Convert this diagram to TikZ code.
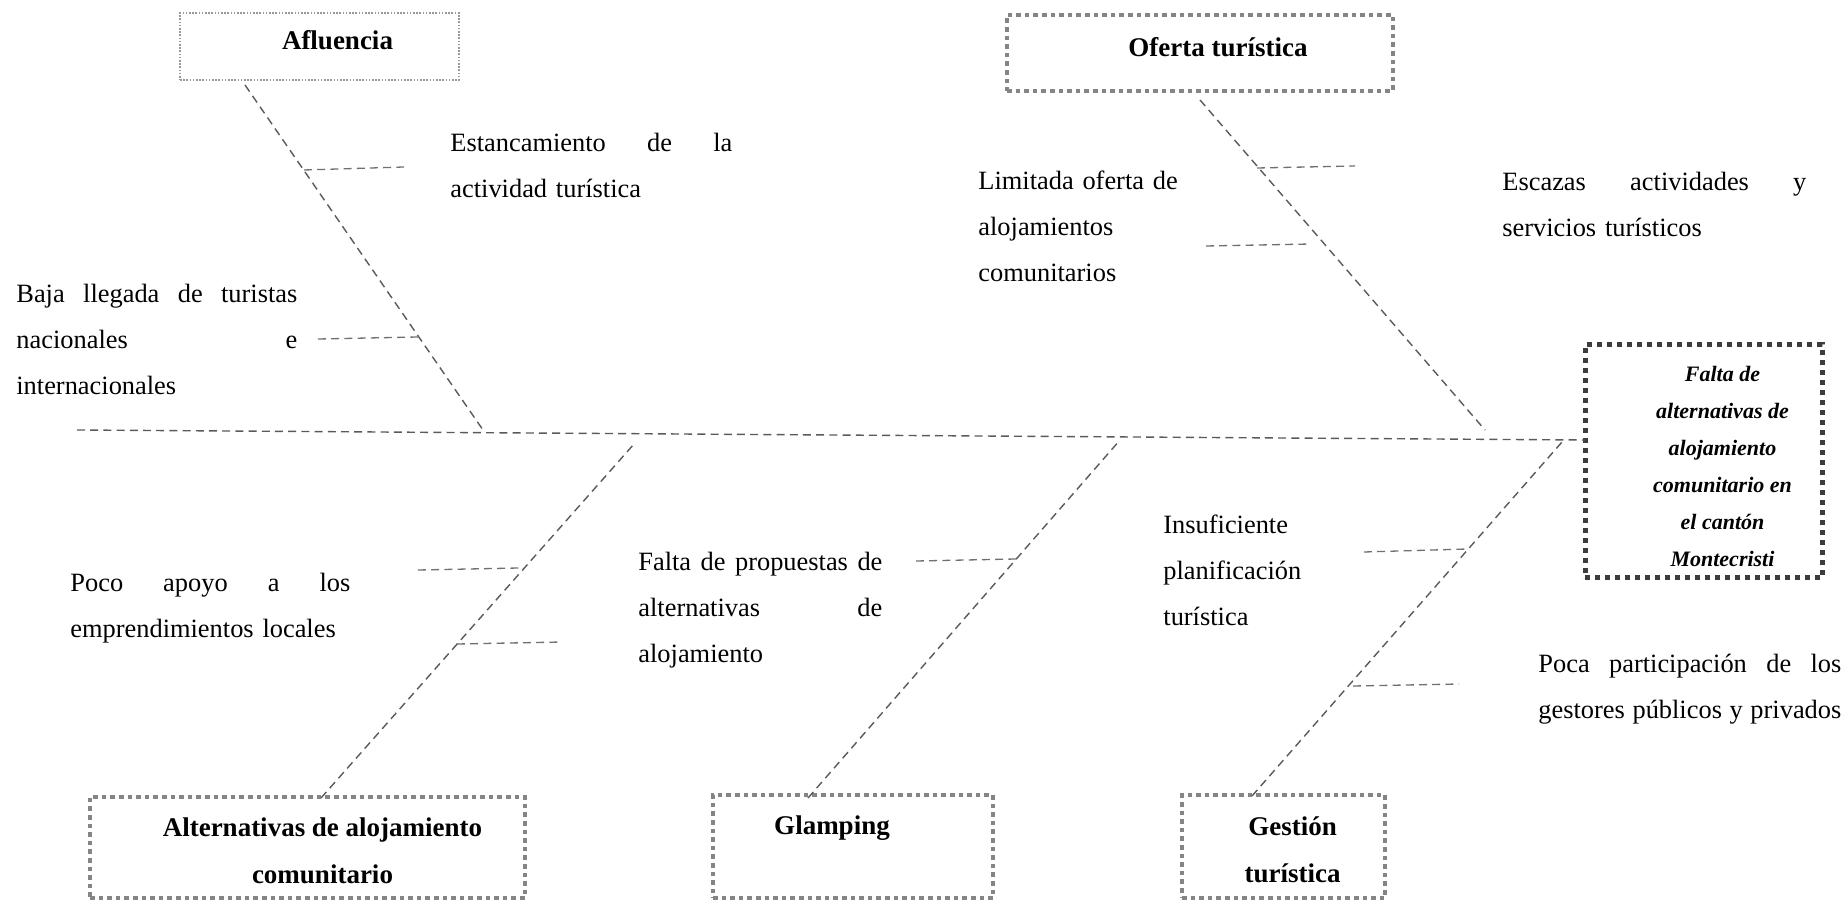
\documentclass[tikz,border=0pt]{standalone}
\usepackage{fontspec}
\setmainfont{Liberation Serif}
\definecolor{bonecol}{HTML}{5A5A5A}
\definecolor{tickcol}{HTML}{707070}
\definecolor{boxcol}{HTML}{858585}
\definecolor{thincol}{HTML}{999999}
\definecolor{headcol}{HTML}{3C3C3C}
\newcommand\jline[2]{\leavevmode\hbox to #1{#2}}
\tikzset{
  bone/.style={draw=bonecol, line width=0.7pt, dash pattern=on 4pt off 2.6pt},
  tick/.style={draw=tickcol, line width=0.65pt, dash pattern=on 4pt off 2.6pt},
  catbox/.style={draw=boxcol, line width=2.3pt, dash pattern=on 2.3pt off 2pt,
    inner sep=0pt, align=center, font=\fontsize{13.5}{23.5}\selectfont\bfseries},
  thinbox/.style={draw=thincol, line width=0.8pt, dash pattern=on 0.8pt off 0.8pt,
    inner sep=0pt, align=center, font=\fontsize{13.5}{23.5}\selectfont\bfseries},
  headbox/.style={draw=headcol, line width=2.5pt, dash pattern=on 2.5pt off 2.5pt,
    inner sep=0pt, align=center, font=\fontsize{11}{18.5}\selectfont\bfseries\itshape},
  cause/.style={anchor=base west, inner sep=0pt, align=left,
    font=\fontsize{13.2}{23}\selectfont},
}
\begin{document}
\begin{tikzpicture}[x=0.5pt, y=-0.5pt]
\useasboundingbox (0,0) rectangle (1848,908);

% boxes
\node[thinbox, minimum width=139.5pt, minimum height=33.5pt] (afl) at (319.5,46.5)
  {\hspace*{18pt}Afluencia\rule[-6pt]{0pt}{6pt}};
\node[catbox, minimum width=193pt, minimum height=38pt] (ofe) at (1200,53)
  {\hspace*{18pt}Oferta turística\rule[-6pt]{0pt}{6pt}};
\node[headbox, minimum width=118.5pt, minimum height=116.5pt] (eff) at (1703.5,461.5)
  {\hspace*{19pt}\rule{0pt}{12.5pt}Falta de\\\hspace*{19pt}alternativas de\\\hspace*{19pt}alojamiento\\\hspace*{19pt}comunitario en\\\hspace*{19pt}el cantón\\\hspace*{19pt}Montecristi};
\node[catbox, minimum width=217.5pt, minimum height=50.5pt] (alt) at (307.5,847.5)
  {\hspace*{15pt}\rule{0pt}{13pt}Alternativas de alojamiento\\\hspace*{15pt}comunitario};
\node[catbox, minimum width=140pt, minimum height=51.5pt] (gla) at (853,846.5)
  {Glamping\hspace*{21pt}\\[-9.4pt]\strut};
\node[catbox, minimum width=101.5pt, minimum height=51.5pt] (ges) at (1283.5,846.5)
  {\hspace*{9pt}\rule{0pt}{13pt}Gestión\\\hspace*{9pt}turística};

% spine
\coordinate (tail) at (77,430);
\coordinate (head) at (1585,440);
\draw[bone] (tail) -- (head);

% bones
\coordinate (aflT) at (245,85);   \coordinate (aflB) at (483,430);
\coordinate (ofeT) at (1200,100); \coordinate (ofeB) at (1485,430);
\coordinate (altB) at (321,798);  \coordinate (altT) at (634,444);
\coordinate (glaB) at (808,798);  \coordinate (glaT) at (1120,440);
\coordinate (gesB) at (1252,796); \coordinate (gesT) at (1562,442);
\draw[bone] (aflT) -- (aflB);
\draw[bone] (ofeT) -- (ofeB);
\draw[bone] (altB) -- (altT);
\draw[bone] (glaB) -- (glaT);
\draw[bone] (gesB) -- (gesT);

% ticks
\coordinate (a1a) at (304,170); \coordinate (a1b) at (404,167);
\coordinate (a2a) at (318,339); \coordinate (a2b) at (418,337);
\coordinate (o1a) at (1257,168); \coordinate (o1b) at (1355,166);
\coordinate (o2a) at (1206,246); \coordinate (o2b) at (1311,244);
\coordinate (l1a) at (418,570); \coordinate (l1b) at (519,568);
\coordinate (l2a) at (457,644); \coordinate (l2b) at (562,642);
\coordinate (g1a) at (916,561); \coordinate (g1b) at (1016,559);
\coordinate (e1a) at (1364,552); \coordinate (e1b) at (1467,549);
\coordinate (e2a) at (1353,686); \coordinate (e2b) at (1459,684);
\foreach \p in {a1,a2,o1,o2,l1,l2,g1,e1,e2} {\draw[tick] (\p a) -- (\p b);}

% causes
\node[cause, text width=160pt] (c1) at (450,151.5)
  {\jline{141pt}{Estancamiento\hfill de\hfill la}\\actividad turística};
\node[cause, text width=160pt] (c2) at (16,302.5)
  {\jline{140.5pt}{Baja\hfill llegada\hfill de\hfill turistas}\\\jline{140.5pt}{nacionales\hfill e}\\internacionales};
\node[cause, text width=140pt] (c3) at (978,189.5)
  {Limitada oferta de\\alojamientos\\comunitarios};
\node[cause, text width=170pt] (c4) at (1502,190.5)
  {\jline{152pt}{Escazas\hfill actividades\hfill y}\\servicios turísticos};
\node[cause, text width=160pt] (c5) at (70,591.5)
  {\jline{140pt}{Poco\hfill apoyo\hfill a\hfill los}\\emprendimientos locales};
\node[cause, text width=150pt] (c6) at (638,570.5)
  {\jline{122pt}{Falta\hfill de\hfill propuestas\hfill de}\\\jline{122pt}{alternativas\hfill de}\\alojamiento};
\node[cause, text width=100pt] (c7) at (1163,533.5)
  {Insuficiente\\planificación\\turística};
\node[cause, text width=170pt] (c8) at (1538,672.5)
  {\jline{151.5pt}{Poca\hfill participación\hfill de\hfill los}\\\jline{151.5pt}{gestores\hfill públicos\hfill y\hfill privados}};
\end{tikzpicture}
\end{document}
